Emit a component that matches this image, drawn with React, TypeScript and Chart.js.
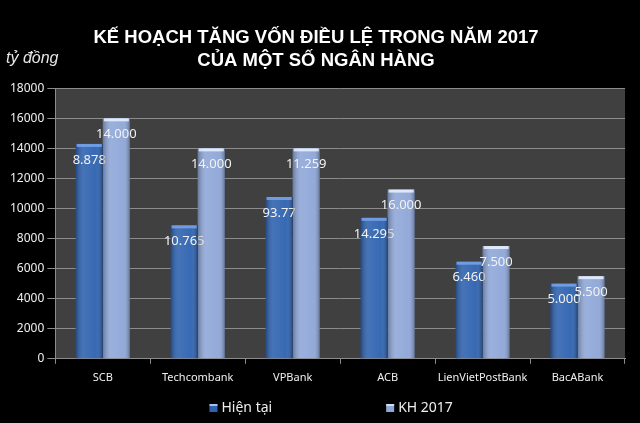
import { useRef, useEffect } from "react";
import Chart from "chart.js/auto";

const categories = ["SCB", "Techcombank", "VPBank", "ACB", "LienVietPostBank", "BacABank"];
const currentValues = [14295, 8878, 10765, 9377, 6460, 5000];
const planValues = [16000, 14000, 14000, 11259, 7500, 5500];
// the picture labels its bars with these (shifted) numbers
const currentLabels = ["8.878", "10.765", "93.77", "14.295", "6.460", "5.000"];
const planLabels = ["14.000", "14.000", "11.259", "16.000", "7.500", "5.500"];
const seriesNames = ["Hiện tại", "KH 2017"];
const titleLines = ["KẾ HOẠCH TĂNG VỐN ĐIỀU LỆ TRONG NĂM 2017", "CỦA MỘT SỐ NGÂN HÀNG"];
const unitLabel = "tỷ đồng";

const DARK = "#2f63b0";
const LIGHT = "#8fa7d8";

// grey plot background behind the bars
const plotBackground = {
  id: "plotBackground",
  beforeDraw(chart) {
    const { ctx, chartArea } = chart;
    ctx.save();
    ctx.fillStyle = "#404040";
    ctx.fillRect(chartArea.left, chartArea.top, chartArea.right - chartArea.left, chartArea.bottom - chartArea.top);
    ctx.restore();
  },
};

// shading on the bars + the value texts
const barDecor = {
  id: "barDecor",
  afterDatasetsDraw(chart) {
    const { ctx } = chart;
    ctx.save();
    chart.data.datasets.forEach((ds, di) => {
      const meta = chart.getDatasetMeta(di);
      meta.data.forEach((el, i) => {
        const left = el.x - el.width / 2;
        const h = el.base - el.y;
        const g = ctx.createLinearGradient(left, 0, left + el.width, 0);
        g.addColorStop(0, "rgba(0,0,0,0.28)");
        g.addColorStop(0.3, "rgba(255,255,255,0.10)");
        g.addColorStop(0.75, "rgba(255,255,255,0.04)");
        g.addColorStop(1, "rgba(0,0,0,0.30)");
        ctx.fillStyle = g;
        ctx.fillRect(left, el.y, el.width, h);
        // top bevel
        ctx.fillStyle = di === 0 ? "rgba(120,165,235,0.85)" : "rgba(235,242,255,0.85)";
        ctx.fillRect(left + 1, el.y, el.width - 2, 3);

        const txt = ds.valueLabels[i];
        ctx.fillStyle = "#f2f2f2";
        ctx.font = "13px 'Noto Sans', sans-serif";
        ctx.textAlign = "center";
        ctx.textBaseline = "middle";
        ctx.fillText(txt, el.x, el.y + 16);
      });
    });
    ctx.restore();
  },
};

// unit text and legend drawn by hand
const extras = {
  id: "extras",
  afterDraw(chart) {
    const { ctx, chartArea, height } = chart;
    ctx.save();
    ctx.fillStyle = "#e6e6e6";
    ctx.font = "italic 16px 'Liberation Sans', sans-serif";
    ctx.textAlign = "left";
    ctx.textBaseline = "middle";
    ctx.fillText(unitLabel, 6, chartArea.top - 30);

    ctx.font = "14px 'Noto Sans', sans-serif";
    const gap = 114;
    const items = chart.data.datasets.map((ds) => ({ text: ds.label, color: ds.backgroundColor }));
    const widths = items.map((it) => 12 + ctx.measureText(it.text).width);
    const total = widths.reduce((a, b) => a + b, 0) + gap * (items.length - 1);
    let x = (chartArea.left + chartArea.right) / 2 - total / 2 - 9;
    const y = height - 15;
    items.forEach((it, k) => {
      ctx.fillStyle = it.color;
      ctx.fillRect(x, y - 4, 8, 8);
      ctx.fillStyle = "rgba(255,255,255,0.6)";
      ctx.fillRect(x, y - 4, 8, 2);
      ctx.fillStyle = "#eeeeee";
      ctx.fillText(it.text, x + 12, y);
      x += widths[k] + gap;
    });
    ctx.restore();
  },
};

const App = () => {
  const chartRef = useRef(null);
  const chartInstance = useRef(null);

  useEffect(() => {
    document.body.style.margin = "0";
    document.body.style.background = "#000";
    const myChartRef = chartRef.current.getContext("2d");

    if (chartInstance.current) {
      chartInstance.current.destroy();
    }

    chartInstance.current = new Chart(myChartRef, {
      type: "bar",
      data: {
        labels: categories,
        datasets: [
          { label: seriesNames[0], data: currentValues, valueLabels: currentLabels, backgroundColor: DARK },
          { label: seriesNames[1], data: planValues, valueLabels: planLabels, backgroundColor: LIGHT },
        ],
      },
      plugins: [plotBackground, barDecor, extras],
      options: {
        animation: false,
        responsive: true,
        maintainAspectRatio: false,
        layout: { padding: { left: 7, right: 15, bottom: 32 } },
        datasets: {
          bar: { categoryPercentage: 0.57, barPercentage: 1 },
        },
        plugins: {
          legend: { display: false },
          tooltip: { enabled: false },
          title: {
            display: true,
            text: titleLines,
            color: "#ffffff",
            font: { family: "'Liberation Sans', Arial, sans-serif", size: 18.5, weight: "bold", lineHeight: 1.25 },
            padding: { top: 26, bottom: 16 },
          },
        },
        scales: {
          y: {
            min: 0,
            max: 18000,
            ticks: {
              stepSize: 2000,
              color: "#f0f0f0",
              padding: 3,
              font: { family: "'Noto Sans', sans-serif", size: 12 },
              callback: (v) => String(v),
            },
            grid: { color: "#8c8c8c", tickLength: 8, lineWidth: 1 },
            border: { color: "#8c8c8c" },
          },
          x: {
            ticks: {
              color: "#f0f0f0",
              padding: 7,
              maxRotation: 0,
              minRotation: 0,
              autoSkip: false,
              font: { family: "'Noto Sans', sans-serif", size: 11 },
            },
            grid: { offset: true, drawOnChartArea: false, tickLength: 5, color: "#8c8c8c" },
            border: { color: "#8c8c8c" },
          },
        },
      },
    });

    return () => {
      if (chartInstance.current) {
        chartInstance.current.destroy();
      }
    };
  }, []);

  return (
    <div style={{ width: 640, height: 423, background: "#000", position: "relative" }}>
      <canvas ref={chartRef}></canvas>
    </div>
  );
};

export default App;
